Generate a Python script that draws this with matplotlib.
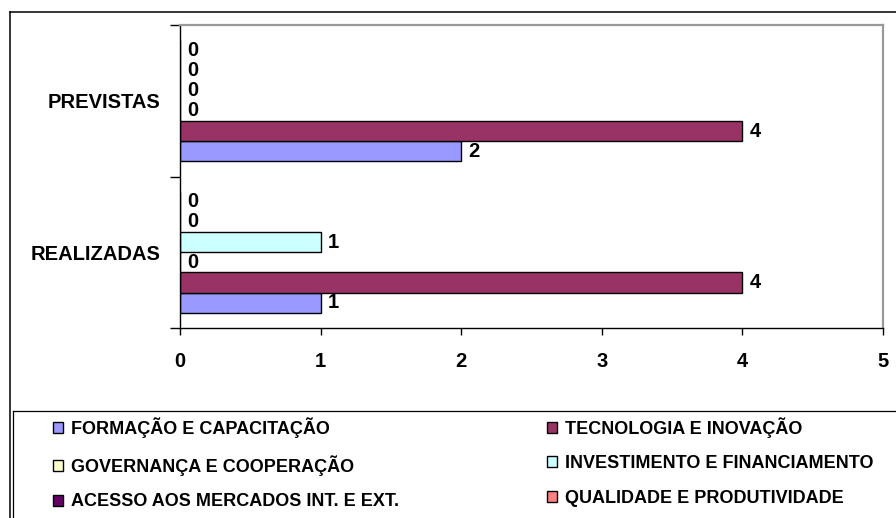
import numpy as np
import matplotlib
matplotlib.use('Agg')
import matplotlib.pyplot as plt
from matplotlib.lines import Line2D

plt.rcParams['font.family'] = ['Liberation Sans', 'DejaVu Sans']
plt.rcParams['font.weight'] = 'bold'

# ===== 数据 =====
categories = ['REALIZADAS', 'PREVISTAS']
series = ['FORMAÇÃO E CAPACITAÇÃO', 'TECNOLOGIA E INOVAÇÃO',
          'GOVERNANÇA E COOPERAÇÃO', 'INVESTIMENTO E FINANCIAMENTO',
          'ACESSO AOS MERCADOS INT. E EXT.', 'QUALIDADE E PRODUTIVIDADE']
values = [
    [1, 2],  # FORMAÇÃO
    [4, 4],  # TECNOLOGIA
    [0, 0],  # GOVERNANÇA
    [1, 0],  # INVESTIMENTO
    [0, 0],  # ACESSO
    [0, 0],  # QUALIDADE
]
colors = ['#9999FF', '#993366', '#FFFFCC', '#CCFFFF', '#660066', '#FF8080']
xticks = [0, 1, 2, 3, 4, 5]

W, H = 896, 518
FS = 14.5
fig = plt.figure(figsize=(W / 100, H / 100), dpi=100)

# 外框
fig.add_artist(Line2D([9.5 / W, 9.5 / W], [0, 1 - 12 / H], color='black', lw=1.1))
fig.add_artist(Line2D([9.5 / W, 1], [1 - 12 / H, 1 - 12 / H], color='black', lw=1.1))
# 图例框
fig.add_artist(Line2D([12.5 / W, 12.5 / W], [0, 1 - 411 / H], color='black', lw=0.9))
fig.add_artist(Line2D([12.5 / W, 1], [1 - 411 / H, 1 - 411 / H], color='black', lw=0.9))

ax = fig.add_axes([180 / W, 1 - 328 / H, 703 / W, 303 / H])

n = len(series)
h = 1 / (n + 1.5)
y = np.arange(len(categories))
handles = []
for i, (name, vals) in enumerate(zip(series, values)):
    bars = ax.barh(y + (i - (n - 1) / 2) * h, vals, height=h, color=colors[i],
                   edgecolor='black', linewidth=1.0, label=name)
    ax.bar_label(bars, fmt='%g', padding=5, fontsize=FS, fontweight='bold')
    handles.append(bars)

ax.set_xlim(0, 5)
ax.set_ylim(-0.5, len(categories) - 0.5)
ax.set_xticks(xticks)
ax.set_xticklabels([str(t) for t in xticks], fontsize=FS, fontweight='bold')
ax.tick_params(axis='x', direction='out', length=5, width=1, pad=12)

ax.set_yticks(np.arange(len(categories) + 1) - 0.5)
ax.set_yticklabels([])
ax.tick_params(axis='y', which='major', direction='out', length=7, width=1)
ax.set_yticks(y, minor=True)
ax.set_yticklabels(categories, minor=True, fontsize=FS, fontweight='bold')
ax.tick_params(axis='y', which='minor', length=0, pad=14)

for s in ['top', 'right']:
    ax.spines[s].set_color('#999999')
    ax.spines[s].set_linewidth(1.6)
for s in ['left', 'bottom']:
    ax.spines[s].set_color('black')
    ax.spines[s].set_linewidth(1.0)

order = [0, 2, 4, 1, 3, 5]
fig.legend([handles[k] for k in order], [series[k] for k in order],
           loc='upper left', bbox_to_anchor=(53 / W, 1 - 417 / H),
           ncol=2, frameon=False, borderpad=0, borderaxespad=0,
           handlelength=0.55, handleheight=0.55, handletextpad=0.45,
           labelspacing=0.97, columnspacing=8.2,
           prop={'size': 13, 'weight': 'bold'})

fig.savefig('out.png', dpi=100)
